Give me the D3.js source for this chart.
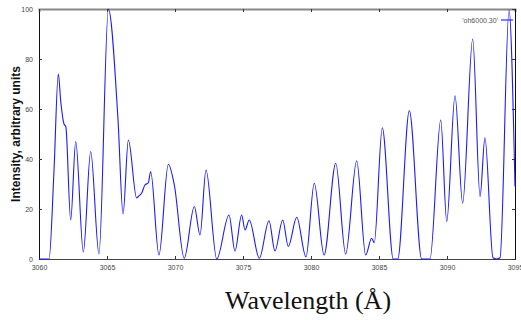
<!DOCTYPE html>
<html>
<head>
<meta charset="utf-8">
<script src="https://cdn.jsdelivr.net/npm/d3@7"></script>
<style>
  body { margin: 0; background: #fff; }
  .tick text { font-family: "Liberation Sans", Arial, sans-serif; font-size: 7px; fill: #444; }
</style>
</head>
<body>
<div id="plot"></div>
<script>
// spectrum: wavelength (Å) and intensity
var wavelength = [3060.00, 3060.74, 3061.10, 3061.42, 3061.60, 3061.84, 3061.97, 3062.33, 3062.70, 3063.26,
  3063.80, 3064.41, 3065.10, 3065.81, 3066.18, 3066.57, 3067.18, 3067.30, 3067.55, 3067.79,
  3068.04, 3068.21, 3068.82, 3069.51, 3069.95, 3070.68, 3071.42, 3071.84, 3072.28, 3073.07,
  3073.97, 3074.41, 3074.90, 3075.15, 3075.46, 3076.20, 3076.91, 3077.35, 3077.92, 3078.33,
  3078.95, 3079.63, 3080.24, 3080.96, 3081.82, 3082.55, 3083.36, 3084.02, 3084.46, 3084.65,
  3085.24, 3086.05, 3086.38, 3087.23, 3088.14, 3088.75, 3089.54, 3089.98, 3090.59, 3091.15,
  3091.89, 3092.43, 3092.79, 3093.38, 3093.65, 3093.90, 3094.56, 3095.00];
var intensity = [0, 0, 35, 74, 63, 54, 53, 15.6, 47, 2.8,
  43, 2, 100, 55.6, 18, 47.6, 24.4, 25, 26.4, 29.6,
  30.5, 35, 1.6, 37.9, 29.6, 0.3, 21, 9.6, 35.6, 0,
  17.6, 3.2, 17.6, 11.6, 15.6, 0.3, 15.3, 3.2, 15.6, 5,
  16.7, 0.8, 30.3, 1.6, 38.3, 2, 39.3, 1.6, 8.3, 6.5,
  52.5, 0, 0, 59.3, 0, 0, 55.6, 15, 65.3, 22.3,
  88, 25, 48.5, 0.5, 0, 0.5, 99.6, 29];
var xTicks = [3060, 3065, 3070, 3075, 3080, 3085, 3090, 3095];
var yTicks = [0, 20, 40, 60, 80, 100];
var seriesName = "'oh6000.30'";

var W = 521, H = 320;
var margin = { top: 9, right: 6, bottom: 61, left: 39 };
var width = W - margin.left - margin.right;
var height = H - margin.top - margin.bottom;

var svg = d3.select("#plot").append("svg").attr("width", W).attr("height", H);
var plot = svg.append("g").attr("transform", "translate(" + margin.left + "," + margin.top + ")");

var x = d3.scaleLinear().domain([3060, 3095]).range([0, width]);
var y = d3.scaleLinear().domain([0, 100]).range([height, 0]);

var data = wavelength.map(function(w, i) { return { x: w, y: intensity[i] }; });

// axes with inward ticks
var gx = plot.append("g").attr("transform", "translate(0," + height + ")")
  .call(d3.axisBottom(x).tickValues(xTicks).tickSize(-3).tickPadding(6).tickFormat(d3.format("d")));
var gy = plot.append("g")
  .call(d3.axisLeft(y).tickValues(yTicks).tickSize(-3).tickPadding(6));
var gt = plot.append("g")
  .call(d3.axisTop(x).tickValues(xTicks).tickSize(-3).tickFormat(""));
var gr = plot.append("g").attr("transform", "translate(" + width + ",0)")
  .call(d3.axisRight(y).tickValues(yTicks).tickSize(-3).tickFormat(""));

[gx, gy, gt, gr].forEach(function(g) {
  g.select(".domain").attr("stroke", "#111");
  g.selectAll(".tick line").attr("stroke", "#333");
});
gt.select(".domain").attr("stroke", "#888").attr("stroke-width", 2);
gx.select(".domain").attr("stroke", "#444");

var line = d3.line()
  .x(function(d) { return x(d.x); })
  .y(function(d) { return y(d.y); })
  .curve(d3.curveMonotoneX);

plot.append("path").datum(data)
  .attr("fill", "none")
  .attr("stroke", "#1a1aff")
  .attr("stroke-width", 1.1)
  .attr("d", line);

// legend
var leg = plot.append("g").attr("transform", "translate(" + (width - 17) + ",11)");
leg.append("text").attr("x", 0).attr("y", 2.5).attr("text-anchor", "end")
  .style("font-family", "Liberation Sans, Arial, sans-serif").style("font-size", "7px").style("fill", "#555")
  .text(seriesName);
leg.append("line").attr("x1", 3).attr("x2", 15).attr("y1", 0).attr("y2", 0)
  .attr("stroke", "#1a1aff").attr("stroke-width", 1.1);

// axis titles
svg.append("text")
  .attr("transform", "translate(20," + (margin.top + height / 2) + ") rotate(-90)")
  .attr("text-anchor", "middle")
  .style("font-family", "Liberation Sans, Arial, sans-serif")
  .style("font-weight", "bold").style("font-size", "12px").style("fill", "#111")
  .text("Intensity, arbitrary units");

svg.append("text")
  .attr("x", 308).attr("y", 309)
  .attr("text-anchor", "middle")
  .style("font-family", "Liberation Serif, Times New Roman, serif")
  .style("font-size", "26px").style("fill", "#111")
  .text("Wavelength (Å)");
</script>
</body>
</html>
